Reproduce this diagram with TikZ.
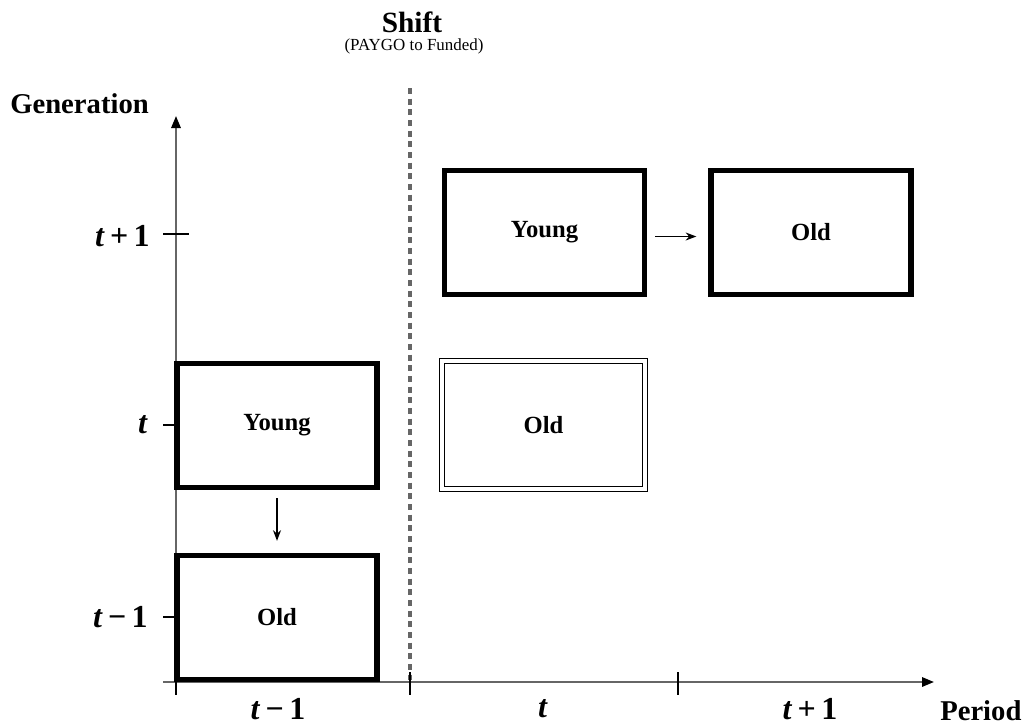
\documentclass[tikz,border=0pt]{standalone}
\usepackage{fontspec}
\setmainfont{Liberation Serif}
\usetikzlibrary{arrows.meta}
\newcommand{\fs}[1]{\fontsize{#1}{1.2\dimexpr#1\relax}\selectfont}
\newcommand{\tv}{\textbf{\textit{t}}}
\tikzset{
  thickbox/.style={draw=black, line width=4pt, minimum width=150pt, minimum height=93pt, inner sep=0pt, font=\bfseries\fs{18.5pt}},
  dblbox/.style={draw=black, double=white, double distance=3pt, line width=0.9pt, minimum width=152pt, minimum height=96pt, inner sep=0pt, font=\bfseries\fs{18.5pt}},
  axisline/.style={draw=gray!80!black, line width=1.6pt, -{Triangle[length=9pt,width=7pt,color=black]}},
  tickline/.style={draw=black, line width=0.8pt},
  smallarrow/.style={draw=black, line width=1.1pt, -{Stealth[length=8pt,width=6pt]}},
  ticklabel/.style={font=\bfseries\fs{24pt}, inner sep=0pt},
  axislabel/.style={font=\bfseries\fs{21.5pt}, inner sep=0pt},
  shiftline/.style={draw=gray!80!black, line width=2.4pt, dash pattern=on 4.5pt off 3.5pt}
}
\begin{document}
\begin{tikzpicture}[x=0.75pt,y=-0.75pt]
\useasboundingbox (0,0) rectangle (1026,726);
% coordinates
\coordinate (origin) at (176,682);
\coordinate (xstart) at (163,682);
\coordinate (xend) at (934,682);
\coordinate (yend) at (176,116);
\coordinate (dtop) at (410,88);
\coordinate (dbot) at (410,680);
% axes
\draw[axisline] (xstart) -- (xend);
\draw[axisline] (origin) -- (yend);
% shift line
\draw[shiftline] (dtop) -- (dbot);
% y ticks
\coordinate (ty1a) at (163,234); \coordinate (ty1b) at (189,234);
\coordinate (ty2a) at (163,425); \coordinate (ty2b) at (176,425);
\coordinate (ty3a) at (163,617); \coordinate (ty3b) at (176,617);
\draw[tickline] (ty1a) -- (ty1b);
\draw[tickline] (ty2a) -- (ty2b);
\draw[tickline] (ty3a) -- (ty3b);
% x ticks
\coordinate (tx1a) at (410,672); \coordinate (tx1b) at (410,695);
\coordinate (tx2a) at (678,672); \coordinate (tx2b) at (678,695);
\coordinate (tx0a) at (176,682); \coordinate (tx0b) at (176,695);
\draw[tickline] (tx1a) -- (tx1b);
\draw[tickline] (tx2a) -- (tx2b);
\draw[tickline] (tx0a) -- (tx0b);
% labels
\node[axislabel, anchor=west] (gen) at (10,104) {Generation};
\node[axislabel, anchor=west] (per) at (940,711) {Period};
\node[font=\bfseries\fs{22pt}, inner sep=0pt] (shift) at (412,22) {Shift};
\node[font=\fs{12.7pt}, inner sep=0pt] (shiftsub) at (414,46) {(PAYGO to Funded)};
\node[ticklabel, anchor=east] (gy1) at (150,236) {\tv\,+\,1};
\node[ticklabel, anchor=east] (gy2) at (148,425) {\tv};
\node[ticklabel, anchor=east] (gy3) at (148,617) {\tv\,−\,1};
\node[ticklabel] (px1) at (278,709) {\tv\,−\,1};
\node[ticklabel] (px2) at (543,709) {\tv};
\node[ticklabel] (px3) at (810,709) {\tv\,+\,1};
% boxes
\node[thickbox] (young1) at (544.5,232.5) {Young};
\node[thickbox] (old1) at (811,232.5) {Old};
\node[thickbox] (young0) at (277,425.5) {Young};
\node[dblbox] (oldshift) at (543.5,425) {Old};
\node[thickbox] (old0) at (277,617.5) {Old};
% arrows
\draw[smallarrow, shorten <=6pt, shorten >=9pt] ([yshift=-3pt]young1.east) -- ([yshift=-3pt]old1.west);
\draw[smallarrow, shorten <=6pt, shorten >=9pt] (young0.south) -- (old0.north);
\end{tikzpicture}
\end{document}
